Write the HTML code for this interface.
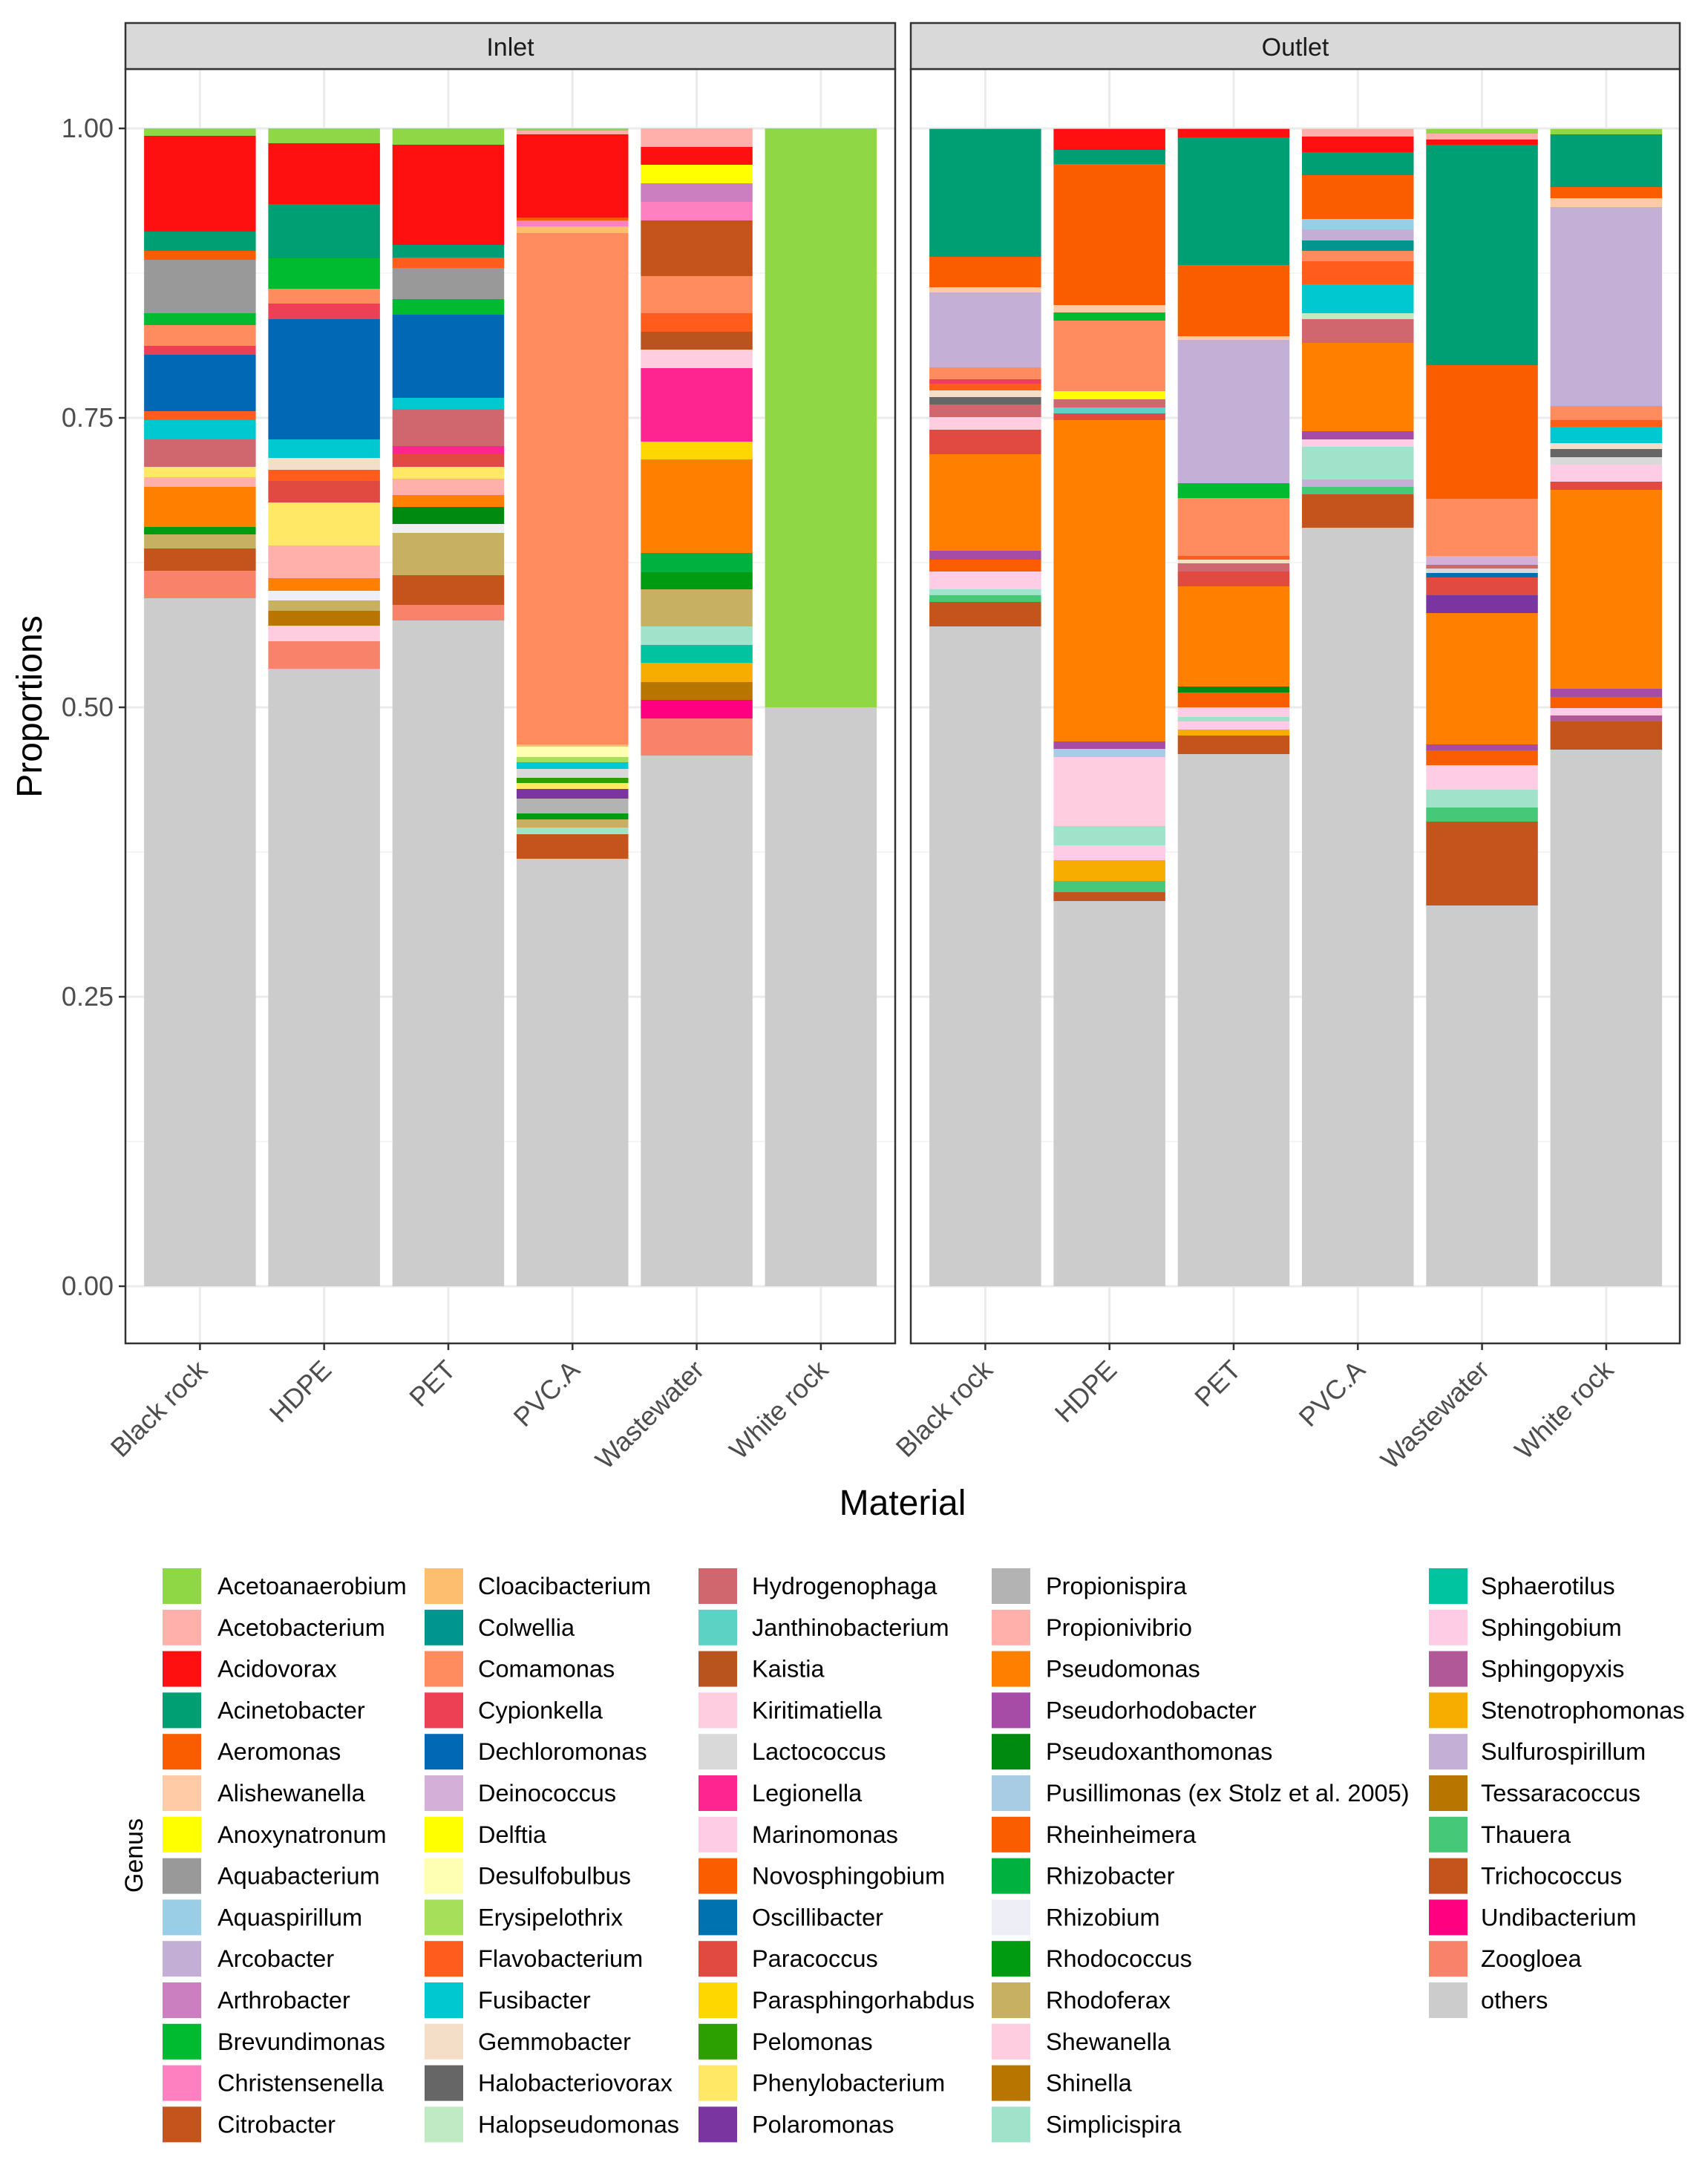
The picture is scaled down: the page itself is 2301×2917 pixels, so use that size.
<!DOCTYPE html>
<html><head><meta charset="utf-8">
<style>
html,body{margin:0;padding:0;background:#fff;}
svg{display:block;font-family:"Liberation Sans",Arial,sans-serif;}
</style></head>
<body>
<svg id="s" xmlns="http://www.w3.org/2000/svg" width="2301" height="2917" viewBox="0 0 2301 2917"></svg>
<script>
const C={
Acetoanaerobium:"#8FD744",Acetobacterium:"#FFB0AA",Acidovorax:"#FF1010",Acinetobacter:"#009E73",Aeromonas:"#F95D00",Alishewanella:"#FFCBA6",Anoxynatronum:"#FFFF00",Aquabacterium:"#999999",Aquaspirillum:"#9ACDE6",Arcobacter:"#C3AED6",Arthrobacter:"#CC7FC0",Brevundimonas:"#00BB2F",Christensenella:"#FF80C0",Citrobacter:"#C5541C",
Cloacibacterium:"#FDBF6F",Colwellia:"#009690",Comamonas:"#FF8C5F",Cypionkella:"#EE4055",Dechloromonas:"#0068B4",Deinococcus:"#D4B0D8",Delftia:"#FFFF00",Desulfobulbus:"#FFFFB3",Erysipelothrix:"#A6E05A",Flavobacterium:"#FF5C1E",Fusibacter:"#00C8D0",Gemmobacter:"#F5DEC8",Halobacteriovorax:"#666666",Halopseudomonas:"#C0EAC4",
Hydrogenophaga:"#D0666E",Janthinobacterium:"#5CD2C4",Kaistia:"#BA541E",Kiritimatiella:"#FFCCE0",Lactococcus:"#D9D9D9",Legionella:"#FF2590",Marinomonas:"#FFCCE5",Novosphingobium:"#F95D00",Oscillibacter:"#0072B0",Paracoccus:"#E04A40",Parasphingorhabdus:"#FFD700",Pelomonas:"#2CA000",Phenylobacterium:"#FFE866",Polaromonas:"#7A35A0",
Propionispira:"#B3B3B3",Propionivibrio:"#FFB0AA",Pseudomonas:"#FF7F00",Pseudorhodobacter:"#A64CA6",Pseudoxanthomonas:"#008B10","Pusillimonas (ex Stolz et al. 2005)":"#A8CCE4",Rheinheimera:"#F95D00",Rhizobacter:"#00B140",Rhizobium:"#EEEEF6",Rhodococcus:"#009B10",Rhodoferax:"#C7B062",Shewanella:"#FFCCE0",Shinella:"#B87600",Simplicispira:"#A0E2CA",
Sphaerotilus:"#00C3A0",Sphingobium:"#FFCCE5",Sphingopyxis:"#B05898",Stenotrophomonas:"#F7AD00",Sulfurospirillum:"#C4AFD6",Tessaracoccus:"#B87600",Thauera:"#45C878",Trichococcus:"#C5541C",Undibacterium:"#FF0080",Zoogloea:"#F8826A",others:"#CCCCCC"};
const cols=[["Acetoanaerobium","Acetobacterium","Acidovorax","Acinetobacter","Aeromonas","Alishewanella","Anoxynatronum","Aquabacterium","Aquaspirillum","Arcobacter","Arthrobacter","Brevundimonas","Christensenella","Citrobacter"],
["Cloacibacterium","Colwellia","Comamonas","Cypionkella","Dechloromonas","Deinococcus","Delftia","Desulfobulbus","Erysipelothrix","Flavobacterium","Fusibacter","Gemmobacter","Halobacteriovorax","Halopseudomonas"],
["Hydrogenophaga","Janthinobacterium","Kaistia","Kiritimatiella","Lactococcus","Legionella","Marinomonas","Novosphingobium","Oscillibacter","Paracoccus","Parasphingorhabdus","Pelomonas","Phenylobacterium","Polaromonas"],
["Propionispira","Propionivibrio","Pseudomonas","Pseudorhodobacter","Pseudoxanthomonas","Pusillimonas (ex Stolz et al. 2005)","Rheinheimera","Rhizobacter","Rhizobium","Rhodococcus","Rhodoferax","Shewanella","Shinella","Simplicispira"],
["Sphaerotilus","Sphingobium","Sphingopyxis","Stenotrophomonas","Sulfurospirillum","Tessaracoccus","Thauera","Trichococcus","Undibacterium","Zoogloea","others"]];
const inlet=[
[[173,"Acetoanaerobium"],[183,"Acidovorax"],[312,"Acinetobacter"],[338,"Aeromonas"],[350,"Aquabacterium"],[422,"Brevundimonas"],[438,"Comamonas"],[466,"Cypionkella"],[478,"Dechloromonas"],[554,"Flavobacterium"],[566,"Fusibacter"],[592,"Hydrogenophaga"],[629,"Phenylobacterium"],[643,"Propionivibrio"],[656,"Pseudomonas"],[710,"Rhodococcus"],[720,"Rhodoferax"],[739,"Trichococcus"],[769,"Zoogloea"],[806,"others"]],
[[173,"Acetoanaerobium"],[193,"Acidovorax"],[275,"Acinetobacter"],[348,"Brevundimonas"],[389,"Comamonas"],[409,"Cypionkella"],[430,"Dechloromonas"],[592,"Fusibacter"],[617,"Gemmobacter"],[633,"Flavobacterium"],[648,"Paracoccus"],[677,"Phenylobacterium"],[735,"Propionivibrio"],[779,"Pseudomonas"],[796,"Rhizobium"],[809,"Rhodoferax"],[823,"Shinella"],[843,"Kiritimatiella"],[864,"Zoogloea"],[901,"others"]],
[[173,"Acetoanaerobium"],[195,"Acidovorax"],[330,"Acinetobacter"],[347,"Flavobacterium"],[361,"Aquabacterium"],[403,"Brevundimonas"],[424,"Dechloromonas"],[536,"Fusibacter"],[551,"Hydrogenophaga"],[601,"Legionella"],[612,"Paracoccus"],[629,"Phenylobacterium"],[645,"Propionivibrio"],[667,"Pseudomonas"],[683,"Pseudoxanthomonas"],[706,"Rhizobium"],[718,"Rhodoferax"],[775,"Trichococcus"],[815,"Zoogloea"],[836,"others"]],
[[173,"Acetoanaerobium"],[176,"Acetobacterium"],[181,"Acidovorax"],[293,"Aeromonas"],[297,"Christensenella"],[305,"Cloacibacterium"],[314,"Comamonas"],[1003,"Cloacibacterium"],[1006,"Desulfobulbus"],[1020,"Erysipelothrix"],[1027,"Fusibacter"],[1036,"Lactococcus"],[1048,"Pelomonas"],[1055,"Phenylobacterium"],[1063,"Polaromonas"],[1076,"Propionispira"],[1096,"Rhodococcus"],[1104,"Rhodoferax"],[1115,"Simplicispira"],[1124,"Trichococcus"],[1157,"others"]],
[[173,"Propionivibrio"],[198,"Acidovorax"],[222,"Anoxynatronum"],[247,"Arthrobacter"],[272,"Christensenella"],[297,"Citrobacter"],[372,"Comamonas"],[422,"Flavobacterium"],[447,"Kaistia"],[471,"Kiritimatiella"],[496,"Legionella"],[595,"Parasphingorhabdus"],[619,"Pseudomonas"],[745,"Rhizobacter"],[771,"Rhodococcus"],[794,"Rhodoferax"],[844,"Simplicispira"],[869,"Sphaerotilus"],[893,"Stenotrophomonas"],[919,"Tessaracoccus"],[943,"Undibacterium"],[968,"Zoogloea"],[1018,"others"]],
[[173,"Acetoanaerobium"],[953,"others"]]];
const outlet=[
[[173.6,"Acinetobacter"],[346,"Aeromonas"],[387,"Alishewanella"],[394,"Sulfurospirillum"],[495,"Comamonas"],[511,"Cypionkella"],[517,"Flavobacterium"],[526,"Gemmobacter"],[535,"Halobacteriovorax"],[545,"Hydrogenophaga"],[562,"Kiritimatiella"],[579,"Paracoccus"],[612,"Pseudomonas"],[742,"Pseudorhodobacter"],[754,"Rheinheimera"],[770,"Sphingobium"],[794,"Simplicispira"],[802,"Thauera"],[811,"Trichococcus"],[844,"others"]],
[[173.6,"Acidovorax"],[202,"Acinetobacter"],[221,"Novosphingobium"],[411,"Alishewanella"],[421,"Brevundimonas"],[432,"Comamonas"],[527,"Anoxynatronum"],[538,"Hydrogenophaga"],[549,"Janthinobacterium"],[557,"Paracoccus"],[566,"Pseudomonas"],[999,"Pseudorhodobacter"],[1009,"Pusillimonas (ex Stolz et al. 2005)"],[1020,"Shewanella"],[1113,"Simplicispira"],[1139,"Sphingobium"],[1159,"Stenotrophomonas"],[1187,"Thauera"],[1202,"Trichococcus"],[1214,"others"]],
[[173.6,"Acidovorax"],[185,"Acinetobacter"],[357,"Aeromonas"],[453,"Alishewanella"],[458,"Sulfurospirillum"],[651,"Brevundimonas"],[671,"Comamonas"],[749,"Flavobacterium"],[754,"Gemmobacter"],[759,"Hydrogenophaga"],[770,"Paracoccus"],[790,"Pseudomonas"],[925,"Pseudoxanthomonas"],[933,"Novosphingobium"],[953,"Kiritimatiella"],[966,"Simplicispira"],[972,"Sphingobium"],[983,"Stenotrophomonas"],[991,"Trichococcus"],[1016,"others"]],
[[173.6,"Acetobacterium"],[184,"Acidovorax"],[205,"Acinetobacter"],[236,"Aeromonas"],[295,"Aquaspirillum"],[309,"Arcobacter"],[324,"Colwellia"],[338,"Comamonas"],[352,"Flavobacterium"],[383,"Fusibacter"],[422,"Halopseudomonas"],[430,"Hydrogenophaga"],[462,"Pseudomonas"],[581,"Pseudorhodobacter"],[592,"Sphingobium"],[602,"Simplicispira"],[646,"Sulfurospirillum"],[656,"Thauera"],[666,"Trichococcus"],[711,"others"]],
[[173.6,"Acetoanaerobium"],[180,"Acetobacterium"],[188,"Acidovorax"],[195,"Acinetobacter"],[492,"Aeromonas"],[672,"Comamonas"],[749,"Deinococcus"],[761,"Hydrogenophaga"],[766,"Lactococcus"],[772,"Oscillibacter"],[778,"Paracoccus"],[802,"Polaromonas"],[826,"Pseudomonas"],[1003,"Pseudorhodobacter"],[1011,"Novosphingobium"],[1031,"Sphingobium"],[1064,"Simplicispira"],[1088,"Thauera"],[1107,"Trichococcus"],[1220,"others"]],
[[173.6,"Acetoanaerobium"],[181,"Acinetobacter"],[252,"Aeromonas"],[267,"Alishewanella"],[279,"Sulfurospirillum"],[547,"Comamonas"],[566,"Flavobacterium"],[575,"Fusibacter"],[597,"Gemmobacter"],[605,"Halobacteriovorax"],[616,"Lactococcus"],[626,"Sphingobium"],[649,"Paracoccus"],[660,"Pseudomonas"],[928,"Pseudorhodobacter"],[939,"Rheinheimera"],[954,"Sphingobium"],[964,"Sphingopyxis"],[972,"Trichococcus"],[1010,"others"]]];
const names=["Black rock","HDPE","PET","PVC.A","Wastewater","White rock"];
let h="";
const Y0=1733,Y1=173,PT=93,PB=1810,sp=167.3,bw=150.5;
function yv(v){return Y0-(Y0-Y1)*v;}
function panel(L,R,bars,title){
  h+=`<rect x="${L}" y="${PT}" width="${R-L}" height="${PB-PT}" fill="#fff"/>`;
  for(const v of [0.125,0.375,0.625,0.875]) h+=`<line x1="${L}" x2="${R}" y1="${yv(v)}" y2="${yv(v)}" stroke="#F2F2F2" stroke-width="1.5"/>`;
  for(const v of [0,0.25,0.5,0.75,1]) h+=`<line x1="${L}" x2="${R}" y1="${yv(v)}" y2="${yv(v)}" stroke="#EBEBEB" stroke-width="3"/>`;
  for(let i=0;i<6;i++){const cx=L+sp*(0.6+i);h+=`<line x1="${cx}" x2="${cx}" y1="${PT}" y2="${PB}" stroke="#EBEBEB" stroke-width="3"/>`;}
  bars.forEach((b,i)=>{const x=L+sp*(0.6+i)-bw/2;
    for(let k=0;k<b.length;k++){const t=b[k][0],bt=k+1<b.length?b[k+1][0]:Y0;
      h+=`<rect x="${x.toFixed(1)}" y="${t}" width="${bw}" height="${(bt-t).toFixed(1)}" fill="${C[b[k][1]]}"/>`;}
    const cx=L+sp*(0.6+i);
    h+=`<line x1="${cx}" x2="${cx}" y1="${PB}" y2="${PB+9}" stroke="#333" stroke-width="2.5"/>`;
    h+=`<text x="${cx+12}" y="${PB+38}" font-size="36" fill="#4D4D4D" text-anchor="end" transform="rotate(-45 ${cx+12} ${PB+38})">${names[i]}</text>`;
  });
  h+=`<rect x="${L}" y="${PT}" width="${R-L}" height="${PB-PT}" fill="none" stroke="#333" stroke-width="2.5"/>`;
  h+=`<rect x="${L}" y="31" width="${R-L}" height="${PT-31}" fill="#D9D9D9" stroke="#333" stroke-width="2.5"/>`;
  h+=`<text x="${(L+R)/2}" y="75" font-size="34" fill="#1A1A1A" text-anchor="middle">${title}</text>`;
}
panel(169,1206,inlet,"Inlet");
panel(1227,2263,outlet,"Outlet");
for(const [v,l] of [[0,"0.00"],[0.25,"0.25"],[0.5,"0.50"],[0.75,"0.75"],[1,"1.00"]]){
  h+=`<line x1="160" x2="169" y1="${yv(v)}" y2="${yv(v)}" stroke="#333" stroke-width="2.5"/>`;
  h+=`<text x="153" y="${yv(v)+12}" font-size="36" fill="#4D4D4D" text-anchor="end">${l}</text>`;
}
h+=`<text x="0" y="0" font-size="48" fill="#000" text-anchor="middle" transform="translate(56 952) rotate(-90)">Proportions</text>`;
h+=`<text x="1216" y="2041" font-size="48" fill="#000" text-anchor="middle">Material</text>`;
h+=`<text x="0" y="0" font-size="34" fill="#000" text-anchor="middle" transform="translate(192 2500) rotate(-90)">Genus</text>`;
const sx=[219,572,941,1336,1925],tx=[293,644,1013,1409,1995];
cols.forEach((col,ci)=>col.forEach((g,ri)=>{const cy=2137+ri*55.8;
  h+=`<rect x="${sx[ci]}" y="${cy-24}" width="52" height="48" fill="${C[g]}"/>`;
  h+=`<text x="${tx[ci]}" y="${cy+11}" font-size="32.5" fill="#000">${g}</text>`;}));
document.getElementById("s").innerHTML=h;
</script>
</body></html>
